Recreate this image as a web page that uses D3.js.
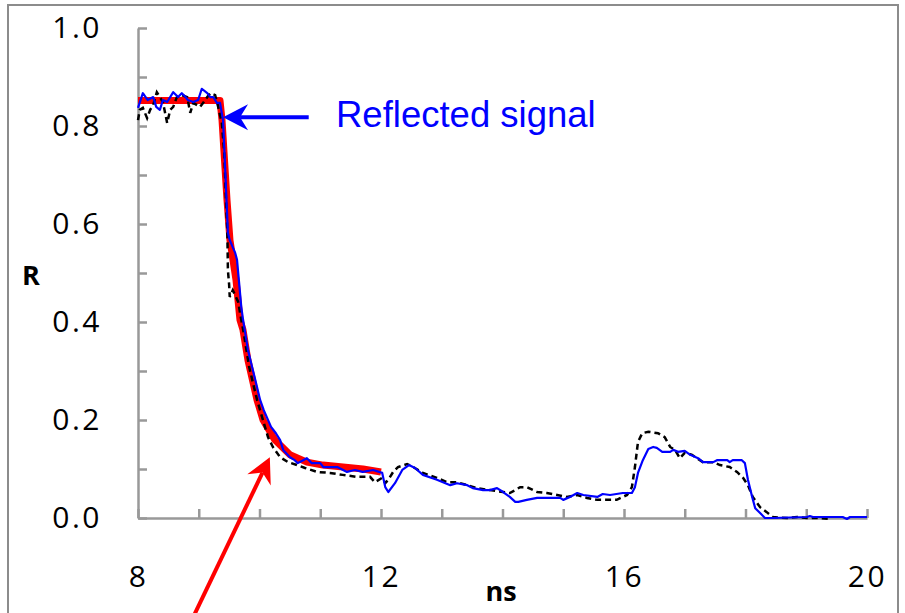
<!DOCTYPE html>
<html><head>
<meta charset="utf-8">
<script src="https://d3js.org/d3.v7.min.js"></script>
<style>
  body { margin: 0; background: #fff; }
  .tick text { font-family: "Open Sans", sans-serif; font-size: 30px; fill: #000; letter-spacing: 2.5px; }
  .axis path, .axis line { stroke: #999; stroke-width: 2.5px; }
</style>
</head>
<body>
<svg id="chart" width="905" height="613"></svg>
<script>
// fitted model (red), ns vs R
const fitT = [8.0, 9.35, 9.383, 9.465, 9.514, 9.613, 9.679, 9.728, 9.81, 9.959, 10.058, 10.255, 10.502, 10.782, 11.045, 11.704, 12.0];
const fitR = [0.852, 0.852, 0.812, 0.649, 0.567, 0.486, 0.404, 0.384, 0.322, 0.241, 0.2, 0.159, 0.129, 0.114, 0.108, 0.1, 0.094];

// reflected signal (blue)
const refT = [8.0, 8.08, 8.16, 8.25, 8.30, 8.36, 8.41, 8.48, 8.58, 8.66, 8.72, 8.77, 8.82, 8.91, 8.99, 9.05, 9.14, 9.19, 9.24, 9.30, 9.35,
  9.40, 9.48, 9.51, 9.60, 9.63, 9.66, 9.70, 9.73, 9.81, 9.93, 10.01, 10.07, 10.19, 10.27, 10.34, 10.39, 10.50, 10.58, 10.63, 10.78, 10.86,
  11.00, 11.05, 11.28, 11.44, 11.57, 11.70, 11.87, 12.02, 12.07, 12.12, 12.23, 12.35, 12.46, 12.56, 12.69, 12.92, 13.14, 13.25, 13.42,
  13.51, 13.68, 13.79, 13.91, 14.01, 14.12, 14.21, 14.26, 14.40, 14.57, 14.78, 14.95, 15.00, 15.11, 15.23, 15.33, 15.56, 15.65, 15.77,
  15.98, 16.13, 16.18, 16.23, 16.31, 16.40, 16.48, 16.54, 16.63, 16.76, 16.81, 16.89, 17.00, 17.09, 17.22, 17.30, 17.47, 17.53, 17.70,
  17.74, 17.79, 17.94, 17.99, 18.04, 18.11, 18.16, 18.24, 18.32, 18.45, 19.01, 19.06, 19.11, 19.60, 19.67, 19.72, 20.0];
const refR = [0.837, 0.867, 0.853, 0.859, 0.839, 0.833, 0.853, 0.849, 0.869, 0.859, 0.867, 0.861, 0.853, 0.849, 0.853, 0.876, 0.867, 0.859, 0.859, 0.847, 0.847,
  0.812, 0.582, 0.567, 0.541, 0.527, 0.486, 0.431, 0.404, 0.343, 0.282, 0.241, 0.220, 0.186, 0.173, 0.159, 0.139, 0.124, 0.118, 0.112, 0.122, 0.112,
  0.112, 0.104, 0.104, 0.094, 0.098, 0.094, 0.098, 0.092, 0.063, 0.053, 0.071, 0.098, 0.108, 0.102, 0.088, 0.078, 0.067, 0.071, 0.067,
  0.061, 0.057, 0.057, 0.061, 0.053, 0.043, 0.033, 0.033, 0.037, 0.041, 0.041, 0.041, 0.037, 0.043, 0.051, 0.047, 0.043, 0.049, 0.047,
  0.051, 0.051, 0.063, 0.092, 0.118, 0.141, 0.145, 0.143, 0.135, 0.135, 0.139, 0.135, 0.137, 0.129, 0.122, 0.114, 0.114, 0.118, 0.118,
  0.114, 0.118, 0.118, 0.112, 0.078, 0.043, 0.020, 0.010, 0.000, 0.000, 0.002, 0.004, 0.002, 0.002, -0.002, 0.002, 0.002];

// second trace (black dashed)
const dashT = [8.0, 8.03, 8.08, 8.15, 8.20, 8.25, 8.31, 8.36, 8.41, 8.48, 8.53, 8.58, 8.64, 8.72, 8.81, 8.86, 8.91, 9.02, 9.07, 9.14, 9.19, 9.27, 9.32,
  9.38, 9.42, 9.45, 9.47, 9.48, 9.50, 9.51, 9.56, 9.65, 9.68, 9.74, 9.83, 9.96, 10.09, 10.14, 10.22, 10.34, 10.47, 10.62, 10.75, 10.95,
  11.16, 11.37, 11.60, 11.82, 11.90, 12.02, 12.07, 12.12, 12.20, 12.28, 12.43, 12.53, 12.69, 12.92, 13.09, 13.25, 13.42, 13.58, 13.79,
  14.01, 14.12, 14.21, 14.29, 14.40, 14.57, 14.73, 14.90, 15.06, 15.23, 15.39, 15.56, 15.72, 15.88, 15.98, 16.05, 16.13, 16.18, 16.23,
  16.30, 16.40, 16.56, 16.67, 16.76, 16.84, 16.92, 17.00, 17.12, 17.20, 17.30, 17.47, 17.58, 17.74, 17.86, 17.96, 18.04, 18.12, 18.24,
  18.35, 18.45, 18.68, 18.85, 19.01, 19.18, 19.39];
const dashR = [0.812, 0.833, 0.837, 0.816, 0.833, 0.843, 0.869, 0.859, 0.849, 0.806, 0.833, 0.839, 0.859, 0.863, 0.859, 0.827, 0.847, 0.839, 0.847, 0.859, 0.867, 0.863, 0.839,
  0.806, 0.745, 0.643, 0.588, 0.506, 0.476, 0.451, 0.465, 0.441, 0.418, 0.378, 0.308, 0.241, 0.186, 0.165, 0.145, 0.124, 0.114, 0.108, 0.102, 0.094,
  0.092, 0.088, 0.084, 0.084, 0.073, 0.082, 0.071, 0.078, 0.094, 0.104, 0.110, 0.104, 0.092, 0.082, 0.073, 0.073, 0.067, 0.061, 0.057,
  0.053, 0.051, 0.057, 0.063, 0.063, 0.053, 0.051, 0.047, 0.043, 0.047, 0.041, 0.037, 0.037, 0.037, 0.043, 0.047, 0.063, 0.104, 0.155,
  0.173, 0.176, 0.173, 0.165, 0.145, 0.139, 0.122, 0.133, 0.129, 0.122, 0.114, 0.114, 0.108, 0.104, 0.094, 0.082, 0.067, 0.043, 0.022,
  0.012, 0.002, 0.000, 0.002, 0.000, 0.000, -0.002];

const yTicks = [0, 0.1, 0.2, 0.3, 0.4, 0.5, 0.6, 0.7, 0.8, 0.9, 1.0];
const xTicks = [8, 9, 10, 11, 12, 13, 14, 15, 16, 17, 18, 19, 20];
const xLabelled = [8, 12, 16, 20];

const svg = d3.select("#chart");
svg.append("rect").attr("width", 905).attr("height", 613).attr("fill", "#fff");

// outer frame
svg.append("rect")
   .attr("x", 8).attr("y", 5).attr("width", 890).attr("height", 640)
   .attr("fill", "none").attr("stroke", "#8c8c8c").attr("stroke-width", 2);

const x = d3.scaleLinear().domain([8, 20]).range([138, 867]);
const y = d3.scaleLinear().domain([0, 1]).range([518, 28]);

const yAxis = d3.axisLeft(y)
  .tickValues(yTicks)
  .tickSizeInner(-9).tickSizeOuter(0)
  .tickPadding(36)
  .tickFormat(d => (Math.round(d * 10) % 2 === 0) ? d3.format(".1f")(d) : "");
svg.append("g").attr("class", "axis")
   .attr("transform", "translate(138,0)")
   .call(yAxis);

const xAxis = d3.axisBottom(x)
  .tickValues(xTicks)
  .tickSizeInner(-9).tickSizeOuter(0)
  .tickPadding(48)
  .tickFormat(d => xLabelled.includes(d) ? d : "");
svg.append("g").attr("class", "axis")
   .attr("transform", "translate(0,518)")
   .call(xAxis);

// axis titles
svg.append("text").attr("x", 31).attr("y", 285)
   .attr("text-anchor", "middle")
   .style("font-family", "Open Sans, sans-serif").style("font-weight", "bold").style("font-size", "27px")
   .text("R");
svg.append("text").attr("x", 501).attr("y", 601)
   .attr("text-anchor", "middle")
   .style("font-family", "Open Sans, sans-serif").style("font-weight", "bold").style("font-size", "27px")
   .text("ns");

const line = d3.line().x(d => x(d[0])).y(d => y(d[1]));

svg.append("path").datum(d3.zip(fitT, fitR))
   .attr("fill", "none").attr("stroke", "#ff0000").attr("stroke-width", 7)
   .attr("stroke-linejoin", "round")
   .attr("d", line);

svg.append("path").datum(d3.zip(dashT, dashR))
   .attr("fill", "none").attr("stroke", "#000").attr("stroke-width", 2.5)
   .attr("stroke-dasharray", "6,4")
   .attr("d", line);

svg.append("path").datum(d3.zip(refT, refR))
   .attr("fill", "none").attr("stroke", "#0000ff").attr("stroke-width", 2.2)
   .attr("stroke-linejoin", "round")
   .attr("d", line);

// annotation arrows, ends given in data units
function arrow(tail, tip, color) {
  const p0 = [x(tail[0]), y(tail[1])], p1 = [x(tip[0]), y(tip[1])];
  const dx = p1[0] - p0[0], dy = p1[1] - p0[1];
  const len = Math.hypot(dx, dy);
  const u = [dx / len, dy / len], n = [-u[1], u[0]];
  const L = 25, W = 13, notch = 8;
  svg.append("line")
     .attr("x1", p0[0]).attr("y1", p0[1])
     .attr("x2", p1[0] - u[0] * (L - notch)).attr("y2", p1[1] - u[1] * (L - notch))
     .attr("stroke", color).attr("stroke-width", 4);
  const head = [
    p1,
    [p1[0] - u[0] * L + n[0] * W, p1[1] - u[1] * L + n[1] * W],
    [p1[0] - u[0] * (L - notch), p1[1] - u[1] * (L - notch)],
    [p1[0] - u[0] * L - n[0] * W, p1[1] - u[1] * L - n[1] * W]
  ];
  svg.append("path").attr("d", "M" + head.join("L") + "Z").attr("fill", color);
}
arrow([10.81, 0.818], [9.40, 0.818], "#0000ff");
arrow([8.84, -0.22], [10.17, 0.124], "#ff0000");

svg.append("text").attr("x", 336).attr("y", 127)
   .style("font-family", "Liberation Sans, Arial, sans-serif").style("font-size", "36.5px")
   .attr("fill", "#0000ff")
   .text("Reflected signal");
</script>
</body>
</html>
